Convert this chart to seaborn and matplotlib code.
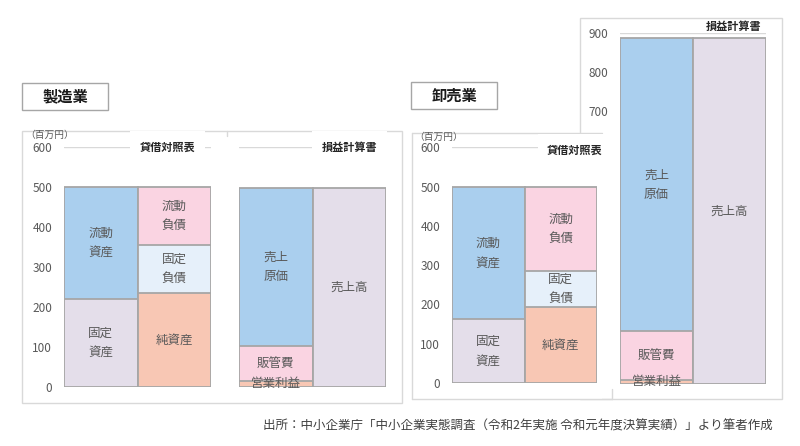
import matplotlib
matplotlib.use("Agg")
import matplotlib.pyplot as plt
import seaborn as sns
import pandas as pd
from matplotlib.patches import Rectangle
from matplotlib.lines import Line2D

sns.set_style("white")
plt.rcParams['font.family'] = ['Noto Sans CJK JP', 'DejaVu Sans']

# 製造業 (百万円)
mfg_bs_left = [220, 280]          # 固定資産, 流動資産
mfg_bs_right = [235, 120, 145]    # 純資産, 固定負債, 流動負債
mfg_pl_left = [15, 88, 394]       # 営業利益, 販管費, 売上原価
mfg_pl_right = [497]              # 売上高

# 卸売業 (百万円)
whs_bs_left = [162, 338]
whs_bs_right = [194, 92, 214]
whs_pl_left = [10, 124, 752]
whs_pl_right = [886]

bs_left_labels = ["固定\n資産", "流動\n資産"]
bs_right_labels = ["純資産", "固定\n負債", "流動\n負債"]
pl_left_labels = ["営業利益", "販管費", "売上\n原価"]
pl_right_labels = ["売上高"]

bs_left_colors = ["#E4DEEA", "#AACFEE"]
bs_right_colors = ["#F8C7B4", "#E6F0FA", "#FAD4E2"]
pl_left_colors = ["#F8C7B4", "#FAD4E2", "#AACFEE"]
pl_right_colors = ["#E4DEEA"]

W, H = 800, 446
EDGE = "#A6A6A6"
TXT = "#595959"
BOX = "#D9D9D9"

fig = plt.figure(figsize=(8, 4.46), dpi=100)


def make_ax(x0, x1, y_top, y_bot, top_val):
    ax = fig.add_axes([x0 / W, 1 - y_bot / H, (x1 - x0) / W, (y_bot - y_top) / H])
    ax.patch.set_alpha(0)
    ax.set_ylim(0, top_val)
    ax.set_xlim(-0.5, 1.5)
    sns.despine(ax=ax, left=True, bottom=True)
    ax.tick_params(axis="y", length=0, pad=8.5, labelsize=8.5, labelcolor=TXT)
    ax.set_xticks([])
    ax.set_xlabel("")
    ax.set_ylabel("")
    return ax


def draw_column(ax, col, values, colors, labels):
    cats = ["a", "b"]
    tops = pd.Series(values).cumsum().tolist()
    # draw from the tallest down so the lower segments sit on top
    for top, c in reversed(list(zip(tops, colors))):
        df = pd.DataFrame({"cat": [cats[col]], "val": [top]})
        sns.barplot(data=df, x="cat", y="val", order=cats, color=c, saturation=1,
                    width=1, edgecolor=EDGE, linewidth=1.3, ax=ax)
    bottoms = [0] + tops[:-1]
    for b, t, lab in zip(bottoms, tops, labels):
        ax.text(col, (b + t) / 2, lab, ha="center", va="center", fontsize=9,
                color=TXT, linespacing=1.65, zorder=5)


def finish(ax, top_val, ticks):
    ax.set_xlim(-0.5, 1.5)
    ax.set_ylim(0, top_val)
    ax.set_yticks(ticks)
    ax.set_xticks([])
    ax.set_xlabel("")
    ax.set_ylabel("")
    ax.axhline(top_val, color=BOX, lw=1, zorder=0)


def fig_line(xs, ys, **kw):
    fig.add_artist(Line2D([x / W for x in xs], [1 - y / H for y in ys],
                          color=BOX, lw=1, **kw))


# outer frames
fig.add_artist(Rectangle((22 / W, 1 - 403 / H), 380 / W, 272 / H, facecolor="white",
                         edgecolor=BOX, lw=1, zorder=-3))
fig.add_artist(Rectangle((580 / W, 1 - 399 / H), 202 / W, 381 / H, facecolor="white",
                         edgecolor=BOX, lw=1, zorder=-3))
fig.add_artist(Rectangle((412 / W, 1 - 399 / H), 190 / W, 266 / H, facecolor="white",
                         edgecolor="none", zorder=-2))
fig_line([412, 602], [133, 133], zorder=-1)
fig_line([412, 412], [133, 399], zorder=-1)
fig_line([412, 612], [399, 399], zorder=-1)
fig_line([612, 612], [389, 399], zorder=-1)
fig_line([227, 227], [131, 136], zorder=-1)

# 製造業
ax1 = make_ax(64, 211, 147, 386.7, 600)
draw_column(ax1, 0, mfg_bs_left, bs_left_colors, bs_left_labels)
draw_column(ax1, 1, mfg_bs_right, bs_right_colors, bs_right_labels)
finish(ax1, 600, range(0, 601, 100))

ax2 = make_ax(239, 386, 147, 386.7, 600)
draw_column(ax2, 0, mfg_pl_left, pl_left_colors, pl_left_labels)
draw_column(ax2, 1, mfg_pl_right, pl_right_colors, pl_right_labels)
finish(ax2, 600, [])

# 卸売業
ax3 = make_ax(452, 597, 147.4, 383, 600)
draw_column(ax3, 0, whs_bs_left, bs_left_colors, bs_left_labels)
draw_column(ax3, 1, whs_bs_right, bs_right_colors, bs_right_labels)
finish(ax3, 600, range(0, 601, 100))

ax4 = make_ax(620, 766, 33, 383.5, 900)
draw_column(ax4, 0, whs_pl_left, pl_left_colors, pl_left_labels)
draw_column(ax4, 1, whs_pl_right, pl_right_colors, pl_right_labels)
finish(ax4, 900, [700, 800, 900])

# section titles over the top gridline
white_box = dict(boxstyle="square,pad=0.85", facecolor="white", edgecolor="none")
fig.text(167.5 / W, 1 - 147 / H, "貸借対照表", ha="center", va="center", fontsize=8,
         weight="bold", color="#262626", bbox=white_box)
fig.text(349.5 / W, 1 - 147 / H, "損益計算書", ha="center", va="center", fontsize=8,
         weight="bold", color="#262626", bbox=white_box)
fig.text(575 / W, 1 - 150 / H, "貸借対照表", ha="center", va="center", fontsize=8,
         weight="bold", color="#262626", bbox=white_box)
fig.text(733.5 / W, 1 - 26 / H, "損益計算書", ha="center", va="center", fontsize=8,
         weight="bold", color="#262626")

# unit labels
fig.text(25 / W, 1 - 135 / H, "（百万円）", ha="left", va="center", fontsize=7, color=TXT)
fig.text(414 / W, 1 - 137 / H, "（百万円）", ha="left", va="center", fontsize=7, color=TXT)

# industry boxes
for x0, y0, name in [(22, 83, "製造業"), (411, 82, "卸売業")]:
    fig.add_artist(Rectangle((x0 / W, 1 - (y0 + 27) / H), 86 / W, 27 / H,
                             facecolor="white", edgecolor="#A6A6A6", lw=1))
    fig.text((x0 + 43) / W, 1 - (y0 + 13.5) / H, name, ha="center", va="center",
             fontsize=11, weight="bold", color="#1a1a1a")

fig.text(518 / W, 1 - 426 / H,
         "出所：中小企業庁「中小企業実態調査（令和2年実施 令和元年度決算実績）」より筆者作成",
         ha="center", va="center", fontsize=9, color="#404040")

fig.savefig("out.png", dpi=100)
